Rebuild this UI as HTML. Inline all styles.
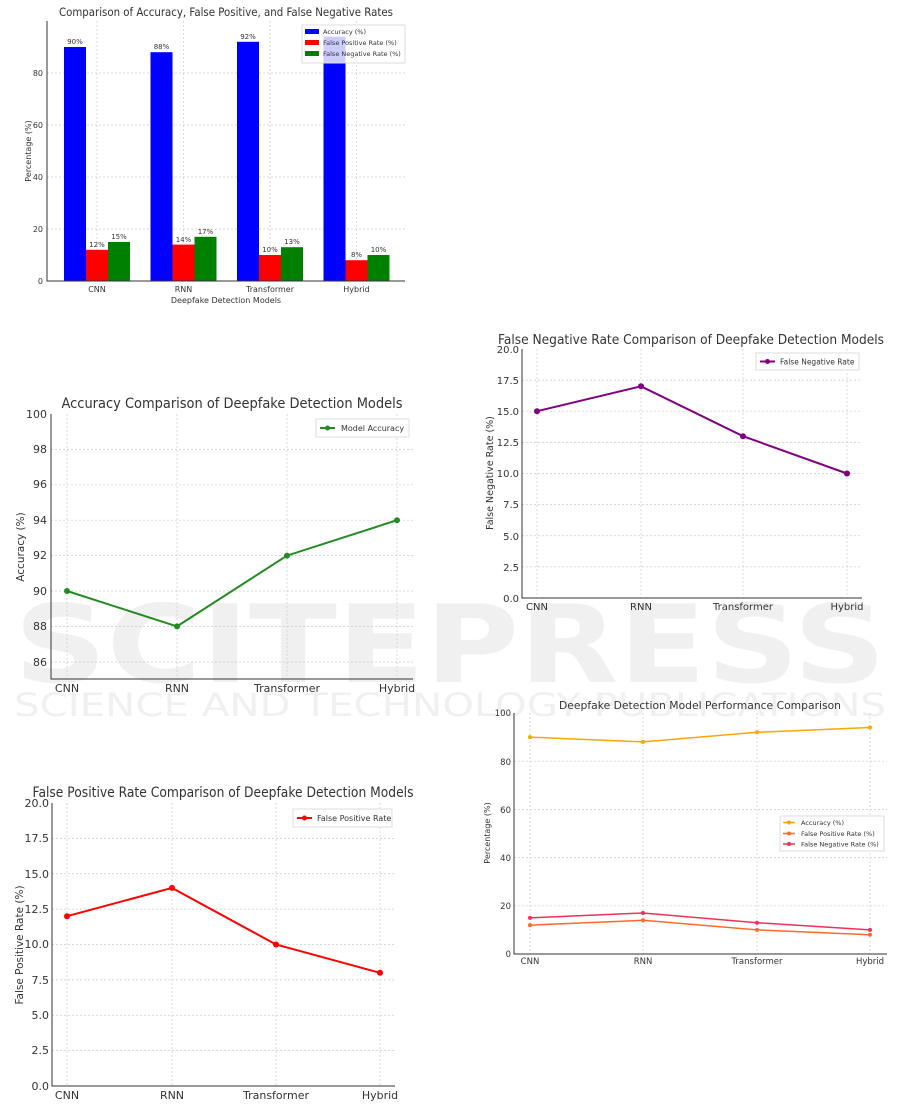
<!DOCTYPE html>
<html><head><meta charset="utf-8"><style>
html,body{margin:0;padding:0;background:#fff;}
svg{display:block;font-family:"DejaVu Sans","Liberation Sans",sans-serif;}
.g{stroke:#ccc;stroke-width:0.7;stroke-dasharray:2,2;fill:none}
.ax{stroke:#333;stroke-width:1;fill:none}
.t{fill:#333}
</style></head><body>
<svg width="901" height="1109" viewBox="0 0 901 1109" xmlns="http://www.w3.org/2000/svg">
<rect width="901" height="1109" fill="#fff"/>

<!-- Watermark (behind) -->
<g fill="#c8c8c8" fill-opacity="0.28" font-family="'DejaVu Sans','Liberation Sans',sans-serif" font-weight="bold">
<text x="14" y="682" font-size="108" textLength="872" lengthAdjust="spacingAndGlyphs">SCITEPRESS</text>
<text x="14" y="716" font-size="32" font-weight="normal" textLength="872" lengthAdjust="spacingAndGlyphs">SCIENCE AND TECHNOLOGY PUBLICATIONS</text>
</g>

<!-- Chart 1: bars -->
<g font-size="8">
<text x="226" y="16" font-size="11.5" text-anchor="middle" class="t" textLength="334" lengthAdjust="spacingAndGlyphs">Comparison of Accuracy, False Positive, and False Negative Rates</text>
<g class="g">
<line x1="47" x2="405" y1="229" y2="229"/><line x1="47" x2="405" y1="177" y2="177"/><line x1="47" x2="405" y1="125" y2="125"/><line x1="47" x2="405" y1="73" y2="73"/>
<line x1="97" x2="97" y1="21" y2="281"/><line x1="183.5" x2="183.5" y1="21" y2="281"/><line x1="270" x2="270" y1="21" y2="281"/><line x1="356.5" x2="356.5" y1="21" y2="281"/>
</g>
<rect x="64" y="47" width="22" height="234" fill="#0000ff"/><rect x="86" y="249.8" width="22" height="31.2" fill="#ff0000"/><rect x="108" y="242" width="22" height="39" fill="#008000"/>
<rect x="150.5" y="52.2" width="22" height="228.8" fill="#0000ff"/><rect x="172.5" y="244.6" width="22" height="36.4" fill="#ff0000"/><rect x="194.5" y="236.8" width="22" height="44.2" fill="#008000"/>
<rect x="237" y="41.8" width="22" height="239.2" fill="#0000ff"/><rect x="259" y="255" width="22" height="26" fill="#ff0000"/><rect x="281" y="247.2" width="22" height="33.8" fill="#008000"/>
<rect x="323.5" y="36.6" width="22" height="244.4" fill="#0000ff"/><rect x="345.5" y="260.2" width="22" height="20.8" fill="#ff0000"/><rect x="367.5" y="255" width="22" height="26" fill="#008000"/>
<g font-size="7" text-anchor="middle" class="t">
<text x="75" y="44">90%</text><text x="97" y="247">12%</text><text x="119" y="239">15%</text>
<text x="161.5" y="49">88%</text><text x="183.5" y="242">14%</text><text x="205.5" y="234">17%</text>
<text x="248" y="39">92%</text><text x="270" y="252">10%</text><text x="292" y="244">13%</text>
<text x="356.5" y="257">8%</text><text x="378.5" y="252">10%</text>
</g>
<polyline class="ax" points="47,21 47,281 405,281"/>
<g text-anchor="end" class="t"><text x="43" y="284">0</text><text x="43" y="232">20</text><text x="43" y="180">40</text><text x="43" y="128">60</text><text x="43" y="76">80</text></g>
<g text-anchor="middle" class="t"><text x="97" y="292">CNN</text><text x="183.5" y="292">RNN</text><text x="270" y="292">Transformer</text><text x="356.5" y="292">Hybrid</text>
<text x="226" y="303">Deepfake Detection Models</text></g>
<text transform="translate(31,151) rotate(-90)" text-anchor="middle" class="t">Percentage (%)</text>
<rect x="302" y="25" width="103" height="38" fill="#fff" fill-opacity="0.8" stroke="#ddd"/>
<rect x="305" y="29" width="14" height="5" fill="#0000ff"/><rect x="305" y="40" width="14" height="5" fill="#ff0000"/><rect x="305" y="51" width="14" height="5" fill="#008000"/>
<g font-size="6.5" class="t"><text x="323" y="34">Accuracy (%)</text><text x="323" y="45">False Positive Rate (%)</text><text x="323" y="56">False Negative Rate (%)</text></g>
</g>

<!-- Chart 3: accuracy -->
<g font-size="11">
<text x="232" y="408" font-size="14" text-anchor="middle" class="t" textLength="341" lengthAdjust="spacingAndGlyphs">Accuracy Comparison of Deepfake Detection Models</text>
<g class="g">
<line x1="51" x2="413" y1="662" y2="662"/><line x1="51" x2="413" y1="626.4" y2="626.4"/><line x1="51" x2="413" y1="591" y2="591"/><line x1="51" x2="413" y1="555.6" y2="555.6"/><line x1="51" x2="413" y1="520.2" y2="520.2"/><line x1="51" x2="413" y1="484.8" y2="484.8"/><line x1="51" x2="413" y1="449.4" y2="449.4"/>
<line x1="67" x2="67" y1="414" y2="679"/><line x1="177" x2="177" y1="414" y2="679"/><line x1="287" x2="287" y1="414" y2="679"/><line x1="397" x2="397" y1="414" y2="679"/>
</g>
<polyline points="67,591 177,626.4 287,555.6 397,520.2" fill="none" stroke="#228b22" stroke-width="2"/>
<g fill="#228b22"><circle cx="67" cy="591" r="3"/><circle cx="177" cy="626.4" r="3"/><circle cx="287" cy="555.6" r="3"/><circle cx="397" cy="520.2" r="3"/></g>
<polyline class="ax" points="51,414 51,679 413,679"/>
<g text-anchor="end" class="t"><text x="47" y="666">86</text><text x="47" y="630">88</text><text x="47" y="595">90</text><text x="47" y="559">92</text><text x="47" y="524">94</text><text x="47" y="488">96</text><text x="47" y="453">98</text><text x="47" y="418">100</text></g>
<g text-anchor="middle" class="t"><text x="67" y="692">CNN</text><text x="177" y="692">RNN</text><text x="287" y="692">Transformer</text><text x="397" y="692">Hybrid</text></g>
<text transform="translate(24,547) rotate(-90)" text-anchor="middle" class="t" font-size="10.5">Accuracy (%)</text>
<rect x="316" y="419" width="93" height="18" fill="#fff" stroke="#ddd"/>
<line x1="320" x2="335" y1="428" y2="428" stroke="#228b22" stroke-width="2"/><circle cx="327.5" cy="428" r="2.5" fill="#228b22"/>
<text x="341" y="431" font-size="8" class="t">Model Accuracy</text>
</g>

<!-- Chart 2: FNR -->
<g font-size="10">
<text x="691" y="344" font-size="13.5" text-anchor="middle" class="t" textLength="386" lengthAdjust="spacingAndGlyphs">False Negative Rate Comparison of Deepfake Detection Models</text>
<g class="g">
<line x1="522" x2="862" y1="566.9" y2="566.9"/><line x1="522" x2="862" y1="535.75" y2="535.75"/><line x1="522" x2="862" y1="504.6" y2="504.6"/><line x1="522" x2="862" y1="473.5" y2="473.5"/><line x1="522" x2="862" y1="442.4" y2="442.4"/><line x1="522" x2="862" y1="411.2" y2="411.2"/><line x1="522" x2="862" y1="380.1" y2="380.1"/>
<line x1="537" x2="537" y1="349" y2="598"/><line x1="641" x2="641" y1="349" y2="598"/><line x1="743" x2="743" y1="349" y2="598"/><line x1="847" x2="847" y1="349" y2="598"/>
</g>
<polyline points="537,411.2 641,386.3 743,436.2 847,473.5" fill="none" stroke="#800080" stroke-width="2"/>
<g fill="#800080"><circle cx="537" cy="411.2" r="3"/><circle cx="641" cy="386.3" r="3"/><circle cx="743" cy="436.2" r="3"/><circle cx="847" cy="473.5" r="3"/></g>
<polyline class="ax" points="522,349 522,598 862,598"/>
<g text-anchor="end" class="t"><text x="519" y="602">0.0</text><text x="519" y="571">2.5</text><text x="519" y="540">5.0</text><text x="519" y="508">7.5</text><text x="519" y="477">10.0</text><text x="519" y="446">12.5</text><text x="519" y="415">15.0</text><text x="519" y="384">17.5</text><text x="519" y="353">20.0</text></g>
<g text-anchor="middle" class="t"><text x="537" y="610">CNN</text><text x="641" y="610">RNN</text><text x="743" y="610">Transformer</text><text x="847" y="610">Hybrid</text></g>
<text transform="translate(493,473) rotate(-90)" text-anchor="middle" class="t" font-size="9.5">False Negative Rate (%)</text>
<rect x="756" y="353" width="103" height="17" fill="#fff" stroke="#ddd"/>
<line x1="760" x2="775" y1="361.5" y2="361.5" stroke="#800080" stroke-width="2"/><circle cx="767.5" cy="361.5" r="2.5" fill="#800080"/>
<text x="780" y="364.5" font-size="7.5" class="t">False Negative Rate</text>
</g>

<!-- Chart 4: FPR -->
<g font-size="11">
<text x="223" y="797" font-size="14" text-anchor="middle" class="t" textLength="381" lengthAdjust="spacingAndGlyphs">False Positive Rate Comparison of Deepfake Detection Models</text>
<g class="g">
<line x1="52" x2="395" y1="1050.6" y2="1050.6"/><line x1="52" x2="395" y1="1015.25" y2="1015.25"/><line x1="52" x2="395" y1="979.9" y2="979.9"/><line x1="52" x2="395" y1="944.5" y2="944.5"/><line x1="52" x2="395" y1="909.1" y2="909.1"/><line x1="52" x2="395" y1="873.75" y2="873.75"/><line x1="52" x2="395" y1="838.4" y2="838.4"/>
<line x1="67" x2="67" y1="803" y2="1086"/><line x1="172" x2="172" y1="803" y2="1086"/><line x1="276" x2="276" y1="803" y2="1086"/><line x1="380" x2="380" y1="803" y2="1086"/>
</g>
<polyline points="67,916.2 172,887.9 276,944.5 380,972.8" fill="none" stroke="#ff0000" stroke-width="2"/>
<g fill="#ff0000"><circle cx="67" cy="916.2" r="3"/><circle cx="172" cy="887.9" r="3"/><circle cx="276" cy="944.5" r="3"/><circle cx="380" cy="972.8" r="3"/></g>
<polyline class="ax" points="52,803 52,1086 395,1086"/>
<g text-anchor="end" class="t"><text x="49" y="1090">0.0</text><text x="49" y="1054">2.5</text><text x="49" y="1019">5.0</text><text x="49" y="984">7.5</text><text x="49" y="948">10.0</text><text x="49" y="913">12.5</text><text x="49" y="878">15.0</text><text x="49" y="842">17.5</text><text x="49" y="807">20.0</text></g>
<g text-anchor="middle" class="t"><text x="67" y="1099">CNN</text><text x="172" y="1099">RNN</text><text x="276" y="1099">Transformer</text><text x="380" y="1099">Hybrid</text></g>
<text transform="translate(23,945) rotate(-90)" text-anchor="middle" class="t" font-size="10.5">False Positive Rate (%)</text>
<rect x="293" y="809" width="99" height="18" fill="#fff" stroke="#ddd"/>
<line x1="297" x2="312" y1="818" y2="818" stroke="#ff0000" stroke-width="2"/><circle cx="304.5" cy="818" r="2.5" fill="#ff0000"/>
<text x="317" y="821" font-size="8" class="t">False Positive Rate</text>
</g>

<!-- Chart 5: performance -->
<g font-size="8.5">
<text x="700" y="709" font-size="11" text-anchor="middle" class="t" textLength="282" lengthAdjust="spacingAndGlyphs">Deepfake Detection Model Performance Comparison</text>
<g class="g">
<line x1="514" x2="887" y1="905.8" y2="905.8"/><line x1="514" x2="887" y1="857.6" y2="857.6"/><line x1="514" x2="887" y1="809.4" y2="809.4"/><line x1="514" x2="887" y1="761.2" y2="761.2"/>
<line x1="530" x2="530" y1="713" y2="954"/><line x1="643" x2="643" y1="713" y2="954"/><line x1="757" x2="757" y1="713" y2="954"/><line x1="870" x2="870" y1="713" y2="954"/>
</g>
<polyline points="530,737.1 643,741.9 757,732.3 870,727.5" fill="none" stroke="#ffa500" stroke-width="1.5"/>
<polyline points="530,925.1 643,920.3 757,929.9 870,934.7" fill="none" stroke="#ff6a2a" stroke-width="1.5"/>
<polyline points="530,917.85 643,913 757,922.7 870,929.9" fill="none" stroke="#f0305a" stroke-width="1.5"/>
<g fill="#ffa500"><circle cx="530" cy="737.1" r="2"/><circle cx="643" cy="741.9" r="2"/><circle cx="757" cy="732.3" r="2"/><circle cx="870" cy="727.5" r="2"/></g>
<g fill="#ff6a2a"><circle cx="530" cy="925.1" r="2"/><circle cx="643" cy="920.3" r="2"/><circle cx="757" cy="929.9" r="2"/><circle cx="870" cy="934.7" r="2"/></g>
<g fill="#f0305a"><circle cx="530" cy="917.85" r="2"/><circle cx="643" cy="913" r="2"/><circle cx="757" cy="922.7" r="2"/><circle cx="870" cy="929.9" r="2"/></g>
<polyline class="ax" points="514,713 514,954 887,954"/>
<g text-anchor="end" class="t"><text x="511" y="957">0</text><text x="511" y="909">20</text><text x="511" y="861">40</text><text x="511" y="813">60</text><text x="511" y="765">80</text><text x="511" y="716">100</text></g>
<g text-anchor="middle" class="t"><text x="530" y="964">CNN</text><text x="643" y="964">RNN</text><text x="757" y="964">Transformer</text><text x="870" y="964">Hybrid</text></g>
<text transform="translate(490,833) rotate(-90)" text-anchor="middle" class="t" font-size="8">Percentage (%)</text>
<rect x="780" y="816" width="104" height="35" fill="#fff" stroke="#ddd"/>
<line x1="783" x2="795" y1="822.5" y2="822.5" stroke="#ffa500" stroke-width="1.5"/><circle cx="789" cy="822.5" r="2" fill="#ffa500"/>
<line x1="783" x2="795" y1="833.5" y2="833.5" stroke="#ff6a2a" stroke-width="1.5"/><circle cx="789" cy="833.5" r="2" fill="#ff6a2a"/>
<line x1="783" x2="795" y1="844" y2="844" stroke="#f0305a" stroke-width="1.5"/><circle cx="789" cy="844" r="2" fill="#f0305a"/>
<g font-size="6.5" class="t"><text x="801" y="825">Accuracy (%)</text><text x="801" y="836">False Positive Rate (%)</text><text x="801" y="846.5">False Negative Rate (%)</text></g>
</g>
</svg>
</body></html>
